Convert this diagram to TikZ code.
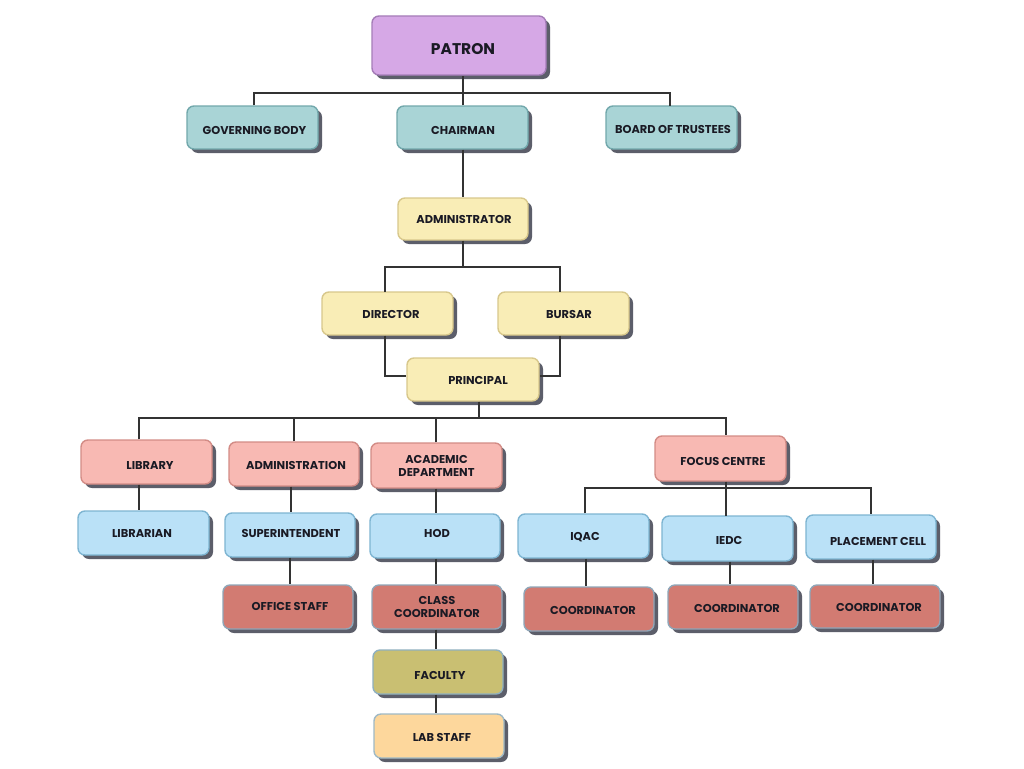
\documentclass[tikz,border=0pt]{standalone}
\usepackage{fontspec}
\setmainfont{Poppins}
\usetikzlibrary{shadows}
\definecolor{shd}{HTML}{5C5E6A}
\definecolor{purF}{HTML}{D6A8E6}\definecolor{purD}{HTML}{A57DB8}
\definecolor{tealF}{HTML}{A9D4D6}\definecolor{tealD}{HTML}{72A8AC}
\definecolor{yelF}{HTML}{F9EDB6}\definecolor{yelD}{HTML}{D8C88C}
\definecolor{pinkF}{HTML}{F8B9B3}\definecolor{pinkD}{HTML}{D38C86}
\definecolor{blueF}{HTML}{BAE1F7}\definecolor{blueD}{HTML}{7EB5D2}
\definecolor{salF}{HTML}{D27B72}\definecolor{salD}{HTML}{8FA6B8}
\definecolor{oliF}{HTML}{C9BF72}\definecolor{oliD}{HTML}{8FB0BF}
\definecolor{labF}{HTML}{FDD79C}\definecolor{labD}{HTML}{9FB9C5}
\definecolor{txt}{HTML}{1A1A24}
\definecolor{ln}{HTML}{333333}
\newcommand\sh[3]{\raisebox{-#2}[\height][\depth]{\makebox[0pt][l]{\hspace*{#1}#3}\phantom{#3}}}
\tikzset{
  box/.style={rounded corners=7pt, minimum width=131pt, minimum height=44pt,
    line width=1.4pt, align=center, text=txt, inner sep=1pt,
    font=\fontsize{11.4}{13}\selectfont\bfseries,
    drop shadow={shadow xshift=4pt, shadow yshift=-4pt, opacity=1, fill=shd}},
  purbox/.style={box, fill=purF, draw=purD},
  tealbox/.style={box, fill=tealF, draw=tealD},
  yelbox/.style={box, fill=yelF, draw=yelD},
  pinkbox/.style={box, fill=pinkF, draw=pinkD},
  bluebox/.style={box, fill=blueF, draw=blueD},
  salbox/.style={box, fill=salF, draw=salD},
  olibox/.style={box, fill=oliF, draw=oliD},
  labbox/.style={box, fill=labF, draw=labD},
  conn/.style={draw=ln, line width=1.1pt}
}
\begin{document}
\begin{tikzpicture}[x=1pt,y=-1pt]
\useasboundingbox[fill=white] (0,0) rectangle (1024,768);
% nodes
\node[purbox, minimum width=174pt, minimum height=59pt, font=\fontsize{15.5}{17}\selectfont\bfseries] (patron) at (459,45.5) {\sh{4pt}{3.5pt}{PATRON}};
\node[tealbox, minimum height=43pt] (gov) at (252.5,127.5) {\sh{2pt}{2.5pt}{GOVERNING BODY}};
\node[tealbox, minimum height=43pt] (chair) at (462.5,127.5) {\sh{0.5pt}{2.5pt}{CHAIRMAN}};
\node[tealbox, minimum height=43pt] (bot) at (671.5,127.5) {\sh{1.5pt}{1.5pt}{BOARD OF TRUSTEES}};
\node[yelbox, minimum width=130pt, minimum height=42pt] (admr) at (463,219) {\sh{1pt}{0pt}{ADMINISTRATOR}};
\node[yelbox, minimum height=43pt] (dir) at (387.5,313.5) {\sh{3.5pt}{0.5pt}{DIRECTOR}};
\node[yelbox, minimum height=43pt] (bursar) at (563.5,313.5) {\sh{5.5pt}{0.5pt}{BURSAR}};
\node[yelbox, minimum width=132pt, minimum height=43pt] (principal) at (473,379.5) {\sh{5pt}{0.5pt}{PRINCIPAL}};
\node[pinkbox] (library) at (146.5,462) {\sh{3.5pt}{3pt}{LIBRARY}};
\node[pinkbox, minimum width=130pt] (admin) at (294,464) {\sh{2pt}{1pt}{ADMINISTRATION}};
\node[pinkbox, minimum height=45pt] (acad) at (436.5,465.5) {ACADEMIC\\DEPARTMENT};
\node[pinkbox, minimum height=45pt] (focus) at (720.5,458.5) {\sh{2.5pt}{2.5pt}{FOCUS CENTRE}};
\node[bluebox] (librarian) at (143.5,533) {\sh{-1.5pt}{0pt}{LIBRARIAN}};
\node[bluebox, minimum width=130pt] (supt) at (290,535) {\sh{1pt}{-2pt}{SUPERINTENDENT}};
\node[bluebox, minimum width=130pt] (hod) at (435,536) {\sh{2pt}{-3pt}{HOD}};
\node[bluebox] (iqac) at (583.5,536) {\sh{1.5pt}{1pt}{IQAC}};
\node[bluebox, minimum height=45pt] (iedc) at (727.5,538.5) {\sh{1.5pt}{1.5pt}{IEDC}};
\node[bluebox, minimum width=130pt] (pc) at (871,537) {\sh{7pt}{4pt}{PLACEMENT CELL}};
\node[salbox, minimum width=130pt] (office) at (288,607) {\sh{2pt}{-1pt}{OFFICE STAFF}};
\node[salbox, minimum width=130pt] (classc) at (437,607) {CLASS\\COORDINATOR};
\node[salbox, minimum width=130pt] (cA) at (589,609) {\sh{4pt}{1pt}{COORDINATOR}};
\node[salbox, minimum width=130pt] (cB) at (733,607) {\sh{4pt}{1pt}{COORDINATOR}};
\node[salbox, minimum width=130pt, minimum height=43pt] (cC) at (875,606.5) {\sh{4pt}{0.5pt}{COORDINATOR}};
\node[olibox, minimum width=130pt] (faculty) at (438,672) {\sh{2pt}{3pt}{FACULTY}};
\node[labbox, minimum width=130pt] (lab) at (439,736) {\sh{3pt}{1pt}{LAB STAFF}};
% connectors
\coordinate (b1) at (0,93);
\draw[conn] (gov.north -| 254,0) |- (b1 -| 670,0) -- (670,106);
\draw[conn] (chair.north -| 463,0) -- (patron.south -| 463,0);
\draw[conn] (chair.south -| 463,0) -- (admr.north -| 463,0);
\coordinate (b2) at (0,267);
\draw[conn] (admr.south) -- (admr.south |- b2);
\draw[conn] (385,292) |- (b2 -| 560,0) -- (560,292);
\draw[conn] (dir.south -| 385,0) |- (principal.west |- 0,376);
\draw[conn] (bursar.south -| 560,0) |- (principal.east |- 0,376);
\coordinate (b3) at (0,418);
\draw[conn] (principal.south -| 479,0) -- (479,418);
\draw[conn] (library.north -| 139,0) |- (b3 -| focus.north -| 726,0) -- (focus.north -| 726,0);
\draw[conn] (admin.north) -- (admin.north |- b3);
\draw[conn] (acad.north -| 436,0) -- (b3 -| 436,0);
\draw[conn] (library.south -| 139,0) -- (librarian.north -| 139,0);
\draw[conn] (admin.south -| 291,0) -- (supt.north -| 291,0);
\draw[conn] (supt.south) -- (office.north -| supt.south);
\draw[conn] (acad.south -| 436,0) -- (hod.north -| 436,0);
\draw[conn] (hod.south -| 436,0) -- (classc.north -| 436,0);
\draw[conn] (classc.south -| 436,0) -- (faculty.north -| 436,0);
\draw[conn] (faculty.south -| 436,0) -- (lab.north -| 436,0);
\coordinate (b4) at (0,488);
\draw[conn] (focus.south -| 726,0) -- (726,516);
\draw[conn] (iqac.north -| 585,0) |- (b4 -| 871,0) -- (pc.north -| 871,0);
\draw[conn] (iqac.south -| 586,0) -- (cA.north -| 586,0);
\draw[conn] (iedc.south -| 730,0) -- (cB.north -| 730,0);
\draw[conn] (pc.south -| 873,0) -- (cC.north -| 873,0);
\end{tikzpicture}
\end{document}
